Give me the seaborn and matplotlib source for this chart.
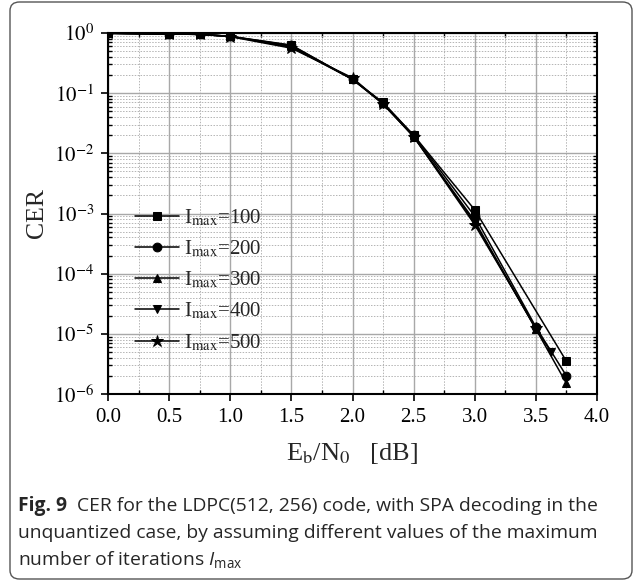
import matplotlib
matplotlib.use("Agg")
import matplotlib.pyplot as plt
import seaborn as sns
import numpy as np
import pandas as pd
from matplotlib.patches import FancyBboxPatch
from matplotlib.font_manager import FontProperties
from matplotlib.ticker import FixedLocator, NullFormatter

# ---------------- data ----------------
ebn0_100 = [0.0, 0.5, 0.75, 1.0, 1.5, 2.0, 2.25, 2.5, 3.0, 3.75]
cer_100 = [0.99, 0.96, 0.95, 0.88, 0.62, 0.17, 0.070, 0.020, 1.15e-3, 3.5e-6]

ebn0_200 = [0.0, 0.5, 0.75, 1.0, 1.5, 2.0, 2.25, 2.5, 3.0, 3.5, 3.75]
cer_200 = [0.99, 0.96, 0.95, 0.88, 0.63, 0.17, 0.068, 0.020, 9.0e-4, 1.3e-5, 2.0e-6]

ebn0_300 = [0.0, 0.5, 0.75, 1.0, 1.5, 2.0, 2.25, 2.5, 3.0, 3.5, 3.75]
cer_300 = [0.99, 0.96, 0.95, 0.88, 0.60, 0.17, 0.068, 0.019, 7.5e-4, 1.2e-5, 1.5e-6]

ebn0_400 = [0.0, 0.5, 0.75, 1.0, 1.5, 2.0, 2.25, 2.5, 3.0, 3.5, 3.625]
cer_400 = [0.99, 0.96, 0.95, 0.88, 0.58, 0.17, 0.066, 0.019, 7.0e-4, 1.2e-5, 5.0e-6]

ebn0_500 = [0.0, 0.5, 0.75, 1.0, 1.5, 2.0, 2.25, 2.5, 3.0, 3.5]
cer_500 = [0.99, 0.96, 0.95, 0.87, 0.56, 0.18, 0.066, 0.019, 6.5e-4, 1.25e-5]

series_names = ["100", "200", "300", "400", "500"]
series_x = [ebn0_100, ebn0_200, ebn0_300, ebn0_400, ebn0_500]
series_y = [cer_100, cer_200, cer_300, cer_400, cer_500]
series_markers = ["s", "o", "^", "v", "*"]

x_ticks = [0.0, 0.5, 1.0, 1.5, 2.0, 2.5, 3.0, 3.5, 4.0]
x_tick_labels = ["0.0", "0.5", "1.0", "1.5", "2.0", "2.5", "3.0", "3.5", "4.0"]
y_ticks = [1e-6, 1e-5, 1e-4, 1e-3, 1e-2, 1e-1, 1e0]
y_tick_labels = [r"$10^{-6}$", r"$10^{-5}$", r"$10^{-4}$", r"$10^{-3}$",
                 r"$10^{-2}$", r"$10^{-1}$", r"$10^{0}$"]

caption_bold = "Fig. 9"
caption_line1 = "  CER for the LDPC(512, 256) code, with SPA decoding in the"
caption_line2 = "unquantized case, by assuming different values of the maximum"
caption_line3 = r"number of iterations $\mathit{I}_{\mathrm{max}}$"

# ---------------- style ----------------
sns.set_theme(style="white")
plt.rcParams["font.family"] = ["Liberation Serif", "DejaVu Serif"]
plt.rcParams["mathtext.fontset"] = "stix"
plt.rcParams["mathtext.rm"] = "Open Sans"
plt.rcParams["mathtext.it"] = "Open Sans:italic"

W, H = 635, 583
fig = plt.figure(figsize=(W / 100, H / 100), dpi=100)
fig.patch.set_facecolor("white")

# rounded frame
frame = FancyBboxPatch((10 / W, 4 / H), (632 - 10) / W, (581 - 4) / H,
                       boxstyle="round,pad=0,rounding_size=0.015",
                       transform=fig.transFigure, facecolor="none",
                       edgecolor="#555555", linewidth=1.0, zorder=-5)
fig.patches.append(frame)

left, right, top, bottom = 108, 597, 33, 394
ax = fig.add_axes([left / W, 1 - bottom / H, (right - left) / W, (bottom - top) / H])
ax.set_facecolor("white")

rows = []
for name, xs, ys in zip(series_names, series_x, series_y):
    for xv, yv in zip(xs, ys):
        rows.append({"EbN0": xv, "CER": yv, "Imax": name})
df = pd.DataFrame(rows)

for name, m in zip(series_names, series_markers):
    sub = df[df["Imax"] == name]
    ms = 9 if m == "*" else 6.3
    sns.lineplot(data=sub, x="EbN0", y="CER", ax=ax, color="black",
                 marker=m, markersize=ms, markeredgecolor="black",
                 linewidth=1.1, label=r"I$_{\rm max}$=" + name, sort=False,
                 estimator=None, zorder=3)

ax.set_yscale("log")
ax.set_xlim(0, 4)
ax.set_ylim(1e-6, 1)

ax.set_xticks(x_ticks)
ax.set_xticklabels(x_tick_labels)
ax.xaxis.set_minor_locator(FixedLocator([0.25, 0.75, 1.25, 1.75, 2.25, 2.75, 3.25, 3.75]))
ax.set_yticks(y_ticks)
ax.set_yticklabels(y_tick_labels)
ax.yaxis.set_minor_locator(FixedLocator(
    [m * 10.0 ** e for e in range(-6, 0) for m in range(2, 10)]))
ax.yaxis.set_minor_formatter(NullFormatter())

for lab in ax.get_xticklabels() + ax.get_yticklabels():
    lab.set_fontsize(15)
    lab.set_fontfamily("Liberation Serif")
    lab.set_math_fontfamily("stix")

ax.grid(True, which="major", color="#a8a8a8", linewidth=1.0, linestyle="-", zorder=1)
ax.grid(True, which="minor", color="#b4b4b4", linewidth=0.7, linestyle=(0, (1.5, 1.5)), zorder=1)
ax.set_axisbelow(True)

ax.tick_params(which="major", direction="out", length=5, width=1.2, colors="black",
               left=True, bottom=True, pad=5)
ax.tick_params(which="minor", direction="in", length=3, width=1.0, colors="black",
               left=True, bottom=True, right=True, top=True)
for sp in ax.spines.values():
    sp.set_color("black")
    sp.set_linewidth(1.5)

ax.set_xlabel(r"E$_{\rm b}$/N$_{\rm 0}$   [dB]", fontsize=19, math_fontfamily="stix",
              labelpad=10)
ax.set_ylabel("CER", fontsize=18.5, labelpad=4)

leg_font = FontProperties(family="Liberation Serif", size=15, math_fontfamily="stix")
ax.legend(loc="center left", bbox_to_anchor=(0.055, 0.315), frameon=False,
          prop=leg_font, handlelength=2.1, handletextpad=0.25, labelspacing=0.5,
          borderpad=0, borderaxespad=0)

# caption
renderer = fig.canvas.get_renderer()
cap_size = 13.9
t0 = fig.text(18 / W, 1 - 511 / H, caption_bold, fontsize=cap_size, fontweight="bold",
              family="Open Sans", va="baseline", ha="left")
bb = t0.get_window_extent(renderer=renderer)
fig.text(bb.x1 / W, 1 - 511 / H, caption_line1, fontsize=cap_size, family="Open Sans",
         va="baseline", ha="left")
fig.text(18 / W, 1 - 538 / H, caption_line2, fontsize=cap_size, family="Open Sans",
         va="baseline", ha="left")
fig.text(18 / W, 1 - 565 / H, caption_line3, fontsize=cap_size, family="Open Sans",
         va="baseline", ha="left", math_fontfamily="custom")

fig.savefig("out.png", dpi=100, facecolor="white")
